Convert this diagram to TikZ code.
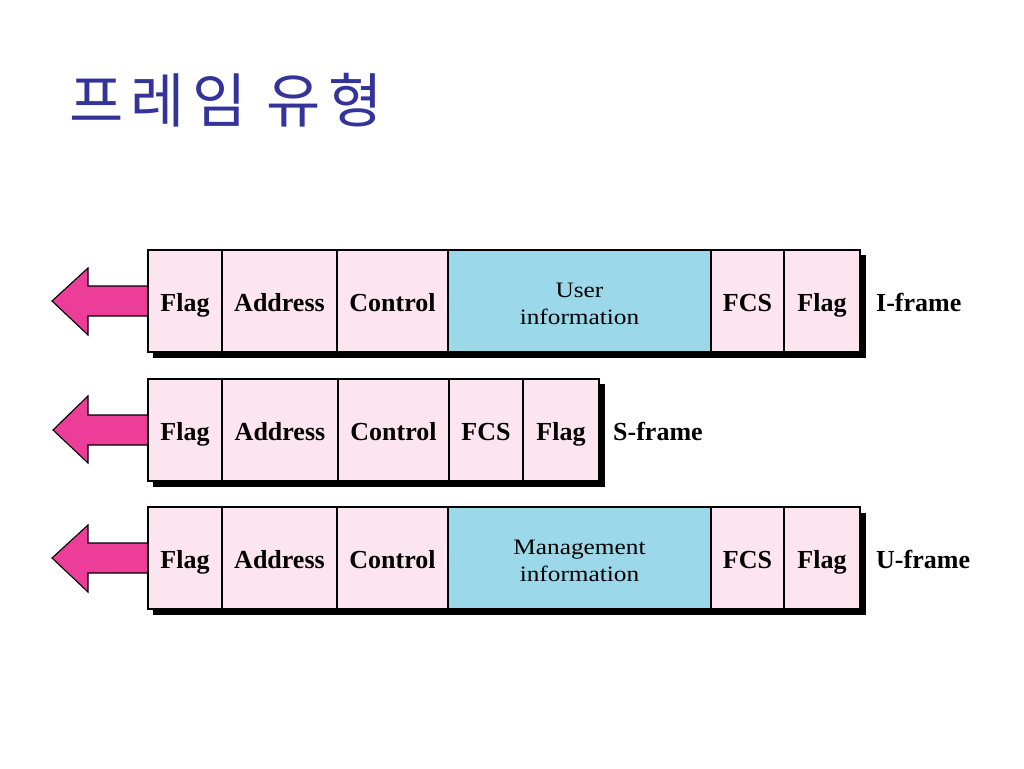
\documentclass[tikz,border=0pt]{standalone}
\usepackage{fontspec}
\setmainfont{Liberation Serif}
\newfontfamily\krfont[LetterSpace=12]{Noto Sans CJK KR}
\newfontfamily\infofont[FakeStretch=1.15]{Liberation Serif}
\usetikzlibrary{positioning}
\definecolor{cellpink}{HTML}{FCE4F0}
\definecolor{cellblue}{HTML}{9AD8EA}
\definecolor{arrowpink}{HTML}{EC3D98}
\definecolor{titleblue}{HTML}{333399}
\tikzset{
  cell/.style={draw=black, line width=1.3pt, fill=cellpink, minimum height=102pt,
    inner sep=0pt, outer sep=0pt, anchor=north west, text height=20pt, text depth=0pt,
    font=\bfseries\fontsize{26}{28}\selectfont},
  infocell/.style={cell, fill=cellblue},
  infotext/.style={inner sep=0pt, align=center, yshift=-3pt,
    font=\infofont\fontsize{22}{27}\selectfont},
  framelabel/.style={inner sep=0pt, anchor=west, text height=20pt, text depth=0pt,
    font=\bfseries\fontsize{26}{28}\selectfont},
  leftarrow/.style={draw=black, line width=1.1pt, fill=arrowpink, line join=miter},
  shadowbox/.style={fill=black}
}
\begin{document}
\begin{tikzpicture}[x=1pt, y=-1pt]
  \useasboundingbox (0,0) rectangle (1024,768);
  \node[inner sep=0pt, text=titleblue, font=\krfont\fontsize{59}{60}\selectfont] (title) at (226,100) {프레임 유형};

  % I-frame
  \fill[shadowbox] (153,255) rectangle (866,358);
  \draw[leftarrow] (148,316) -- (88,316) -- (88,335) -- (52,301) -- (88,268) -- (88,286) -- (148,286);
  \node[cell, minimum width=74pt] (iflaga) at (148,250) {Flag};
  \node[cell, minimum width=115pt] (iaddr) at (222,250) {Address};
  \node[cell, minimum width=111pt] (ictrl) at (337,250) {Control};
  \node[infocell, minimum width=263pt, label={[infotext]center:{User\\information}}] (iinfo) at (448,250) {};
  \node[cell, minimum width=73pt] (ifcs) at (711,250) {FCS};
  \node[cell, minimum width=76pt] (iflagb) at (784,250) {Flag};
  \node[framelabel, right=16pt of iflagb] (ilabel) {I-frame};

  % S-frame
  \fill[shadowbox] (153,384) rectangle (605,487);
  \draw[leftarrow] (148,445) -- (88,445) -- (88,463) -- (53,430) -- (88,396) -- (88,415) -- (148,415);
  \node[cell, minimum width=74pt] (sflaga) at (148,379) {Flag};
  \node[cell, minimum width=116pt] (saddr) at (222,379) {Address};
  \node[cell, minimum width=111pt] (sctrl) at (338,379) {Control};
  \node[cell, minimum width=74pt] (sfcs) at (449,379) {FCS};
  \node[cell, minimum width=76pt] (sflagb) at (523,379) {Flag};
  \node[framelabel, right=14pt of sflagb] (slabel) {S-frame};

  % U-frame
  \fill[shadowbox] (153,513) rectangle (866,615);
  \draw[leftarrow] (148,573) -- (88,573) -- (88,592) -- (52,558) -- (88,525) -- (88,543) -- (148,543);
  \node[cell, minimum width=74pt] (uflaga) at (148,507) {Flag};
  \node[cell, minimum width=115pt] (uaddr) at (222,507) {Address};
  \node[cell, minimum width=111pt] (uctrl) at (337,507) {Control};
  \node[infocell, minimum width=263pt, label={[infotext]center:{Management\\information}}] (uinfo) at (448,507) {};
  \node[cell, minimum width=73pt] (ufcs) at (711,507) {FCS};
  \node[cell, minimum width=76pt] (uflagb) at (784,507) {Flag};
  \node[framelabel, right=16pt of uflagb] (ulabel) {U-frame};
\end{tikzpicture}
\end{document}
